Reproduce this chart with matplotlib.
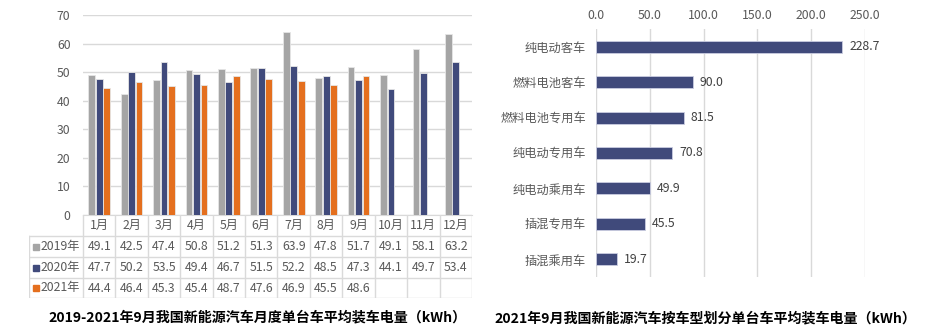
import matplotlib.pyplot as plt
import numpy as np

plt.rcParams['font.family'] = ['Noto Sans CJK SC', 'DejaVu Sans']

months = ['1月', '2月', '3月', '4月', '5月', '6月', '7月', '8月', '9月', '10月', '11月', '12月']
years = ['2019年', '2020年', '2021年']
v2019 = [49.1, 42.5, 47.4, 50.8, 51.2, 51.3, 63.9, 47.8, 51.7, 49.1, 58.1, 63.2]
v2020 = [47.7, 50.2, 53.5, 49.4, 46.7, 51.5, 52.2, 48.5, 47.3, 44.1, 49.7, 53.4]
v2021 = [44.4, 46.4, 45.3, 45.4, 48.7, 47.6, 46.9, 45.5, 48.6]

types = ['纯电动客车', '燃料电池客车', '燃料电池专用车', '纯电动专用车', '纯电动乘用车', '插混专用车', '插混乘用车']
type_vals = [228.7, 90.0, 81.5, 70.8, 49.9, 45.5, 19.7]

colors = ['#A5A5A5', '#404A7B', '#E46F1E']
grid_c = '#D9D9D9'
txt_c = '#595959'
fs = 8.8

W, H = 932, 336
fig = plt.figure(figsize=(9.32, 3.36), dpi=100)

def fax(x0, y0, x1, y1):
    # axes from pixel box (top-left origin)
    return fig.add_axes([x0 / W, 1 - y1 / H, (x1 - x0) / W, (y1 - y0) / H])

# ---- left chart: grouped bars ----
ax = fax(83, 15, 472, 215)
bw = 0.21
series = [v2019, v2020, v2021]
for i, vals in enumerate(series):
    xs = np.arange(len(vals)) + (i - 1) * (bw + 0.02)
    ax.bar(xs, vals, width=bw, color=colors[i], edgecolor='#E6E6E6', linewidth=0.6, zorder=3)
ax.set_xlim(-0.5, len(months) - 0.5)
ax.set_ylim(0, 70)
ax.set_yticks(range(0, 71, 10))
ax.set_xticks([])
ax.grid(axis='y', color=grid_c, lw=1, zorder=0)
for s in ['top', 'right', 'left']:
    ax.spines[s].set_visible(False)
ax.spines['bottom'].set_color(grid_c)
ax.tick_params(axis='y', length=0, labelsize=fs, labelcolor=txt_c, pad=9)

# ---- data table under the left chart ----
tab = fax(29, 215, 472, 298)
tab.set_xlim(29, 472)
tab.set_ylim(298, 215)
tab.axis('off')
col_edges = np.linspace(83, 472, len(months) + 1)
row_edges = [215, 236, 257, 278, 298]
lc = '#DADADA'
for xe in col_edges:
    tab.plot([xe, xe], [row_edges[0], row_edges[-1]], color=lc, lw=1)
tab.plot([29, 29], [row_edges[1], row_edges[-1]], color=lc, lw=1)
for ye in row_edges[1:]:
    tab.plot([29, 472], [ye, ye], color=lc, lw=1)
for j, m in enumerate(months):
    cx = (col_edges[j] + col_edges[j + 1]) / 2
    tab.text(cx, (row_edges[0] + row_edges[1]) / 2, m, ha='center', va='center',
             fontsize=fs, color=txt_c)
    for i, vals in enumerate(series):
        if j < len(vals):
            tab.text(cx, (row_edges[i + 1] + row_edges[i + 2]) / 2, f'{vals[j]:.1f}',
                     ha='center', va='center', fontsize=fs, color=txt_c)
for i, yname in enumerate(years):
    cy = (row_edges[i + 1] + row_edges[i + 2]) / 2
    tab.plot([36], [cy], marker='s', ms=5, color=colors[i], ls='none')
    tab.text(41, cy, yname, ha='left', va='center', fontsize=fs, color=txt_c)

fig.text(258 / W, 1 - 317 / H, '2019-2021年9月我国新能源汽车月度单台车平均装车电量（kWh）',
         ha='center', va='center', fontsize=10.1, fontweight='bold', color='black')

# ---- right chart: horizontal bars ----
bx = fax(596, 29, 865, 277)
yy = np.arange(len(types))
bx.barh(yy, type_vals, height=0.34, color=colors[1], edgecolor='#C9CCE0', linewidth=0.6, zorder=3)
for yi, v in zip(yy, type_vals):
    bx.text(v + 6.5, yi, f'{v:.1f}', va='center', ha='left', fontsize=fs, color='#404040')
bx.set_xlim(0, 250)
bx.set_ylim(len(types) - 0.5, -0.5)
bx.set_xticks(np.arange(0, 251, 50))
bx.set_xticklabels([f'{t:.1f}' for t in np.arange(0, 251, 50)])
bx.set_yticks(yy)
bx.set_yticklabels(types)
bx.xaxis.tick_top()
bx.grid(axis='x', color=grid_c, lw=1, zorder=0)
for s in bx.spines.values():
    s.set_visible(False)
bx.tick_params(axis='x', length=0, labelsize=fs, labelcolor=txt_c, pad=5)
bx.tick_params(axis='y', length=0, labelsize=fs, labelcolor=txt_c, pad=7)

fig.text(705 / W, 1 - 318 / H, '2021年9月我国新能源汽车按车型划分单台车平均装车电量（kWh）',
         ha='center', va='center', fontsize=10.1, fontweight='bold', color='black')

fig.savefig('out.png', dpi=100)
